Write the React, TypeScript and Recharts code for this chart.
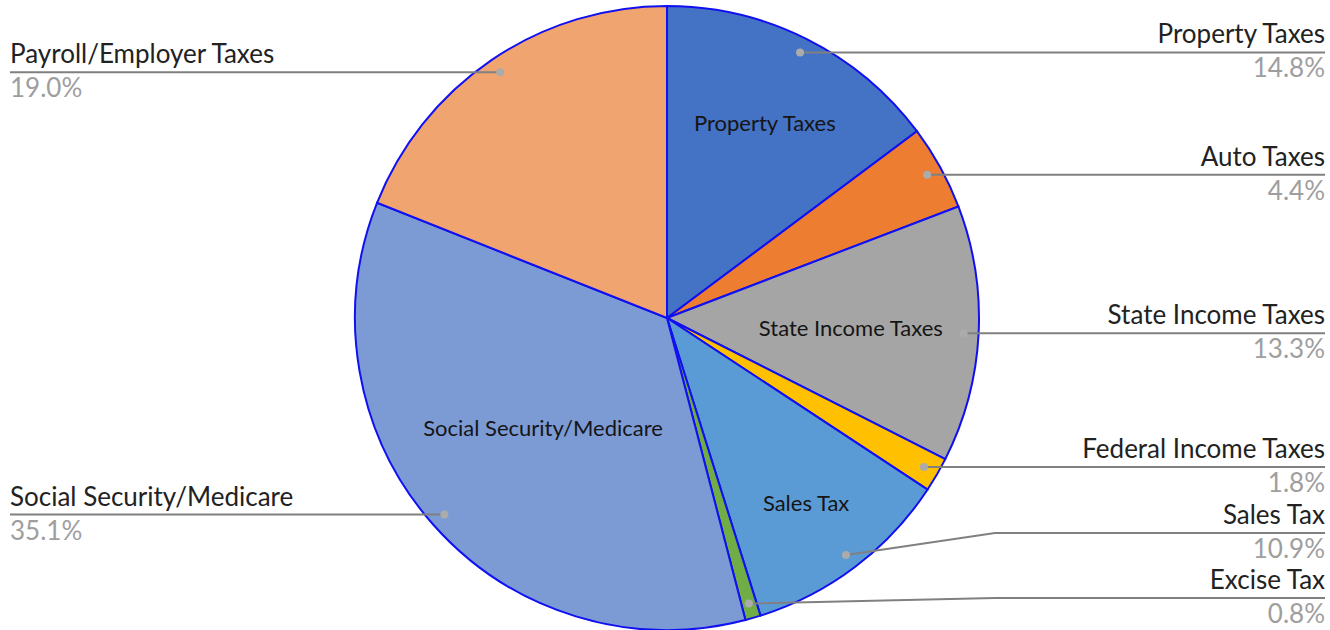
import React from 'react';
import { PieChart, Pie, Cell } from 'recharts';

const categories = [
  'Property Taxes',
  'Auto Taxes',
  'State Income Taxes',
  'Federal Income Taxes',
  'Sales Tax',
  'Excise Tax',
  'Social Security/Medicare',
  'Payroll/Employer Taxes',
];
const shares = [14.8, 4.4, 13.3, 1.8, 10.9, 0.8, 35.1, 19.0];
const percentLabels = ['14.8%', '4.4%', '13.3%', '1.8%', '10.9%', '0.8%', '35.1%', '19.0%'];
const colors = ['#4472C4', '#ED7D31', '#A5A5A5', '#FFC000', '#5B9BD5', '#70AD47', '#7C9BD5', '#F0A46F'];

// style: inside label placement (fraction of radius); absent = no inside label
const insideLabelRadius: Record<string, number> = {
  'Property Taxes': 0.7,
  'State Income Taxes': 0.59,
  'Social Security/Medicare': 0.53,
  'Sales Tax': 0.74,
};

const data = categories.map((name, i) => ({ name, value: shares[i] }));

const W = 1330;
const H = 630;
const CX = 667;
const CY = 318;
const R = 312;
const DOT_R = R - 15;
const RADIAN = Math.PI / 180;
const FONT = 'Lato, "Open Sans", sans-serif';

// label layout (avoid overlap of outside labels)
const total = shares.reduce((a, b) => a + b, 0);
const layout = (() => {
  let cum = 0;
  const items = shares.map((v, i) => {
    const mid = 90 - (360 * (cum + v / 2)) / total;
    cum += v;
    const dx = Math.cos(mid * RADIAN);
    const dy = -Math.sin(mid * RADIAN);
    return { i, right: dx >= 0, dotX: CX + DOT_R * dx, dotY: CY + DOT_R * dy, lineY: CY + DOT_R * dy };
  });
  for (const side of [true, false]) {
    const s = items.filter((it) => it.right === side).sort((a, b) => b.dotY - a.dotY);
    let limit = 598;
    for (const it of s) {
      it.lineY = Math.min(it.dotY, limit);
      limit = it.lineY - 65;
    }
  }
  const out: typeof items = [];
  items.forEach((it) => (out[it.i] = it));
  return out;
})();

const renderLabel = (props: any) => {
  const { cx, cy, midAngle, outerRadius, index } = props;
  const name = categories[index];
  const L = layout[index];
  const right = L.right;
  const edgeX = right ? 1325 : 10;
  const bendX = right ? 995 : 340;
  const path =
    Math.abs(L.lineY - L.dotY) > 0.5
      ? `M${L.dotX},${L.dotY} L${bendX},${L.lineY} L${edgeX},${L.lineY}`
      : `M${L.dotX},${L.dotY} L${edgeX},${L.lineY}`;
  const anchor = right ? 'end' : 'start';
  const f = insideLabelRadius[name];
  let inside: React.ReactNode = null;
  if (f) {
    const rr = outerRadius * f;
    const x = cx + rr * Math.cos(-midAngle * RADIAN);
    const y = cy + rr * Math.sin(-midAngle * RADIAN);
    inside = (
      <text x={x} y={y} textAnchor="middle" dominantBaseline="central" fill="#151515" fontSize={22} fontFamily={FONT}>
        {name}
      </text>
    );
  }
  return (
    <g key={`lbl-${index}`}>
      {inside}
      <path d={path} stroke="#808080" strokeWidth={2} fill="none" />
      <circle cx={L.dotX} cy={L.dotY} r={4} fill="#ABABAB" />
      <text x={edgeX} y={L.lineY - 9} textAnchor={anchor} fill="#222222" fontSize={26} fontFamily={FONT}>
        {name}
      </text>
      <text x={edgeX} y={L.lineY + 25} textAnchor={anchor} fill="#9E9E9E" fontSize={26} fontFamily={FONT}>
        {percentLabels[index]}
      </text>
    </g>
  );
};

export default function App() {
  return (
    <div style={{ position: 'absolute', left: 0, top: 0, width: W, height: H, background: '#fff' }}>
      <PieChart width={W} height={H} margin={{ top: 0, right: 0, bottom: 0, left: 0 }}>
        <Pie
          data={data}
          dataKey="value"
          nameKey="name"
          cx={CX}
          cy={CY}
          outerRadius={R}
          startAngle={90}
          endAngle={-270}
          stroke="#1010F0"
          strokeWidth={2}
          label={renderLabel}
          labelLine={false}
          isAnimationActive={false}
        >
          {data.map((d, i) => (
            <Cell key={d.name} fill={colors[i]} />
          ))}
        </Pie>
      </PieChart>
    </div>
  );
}
